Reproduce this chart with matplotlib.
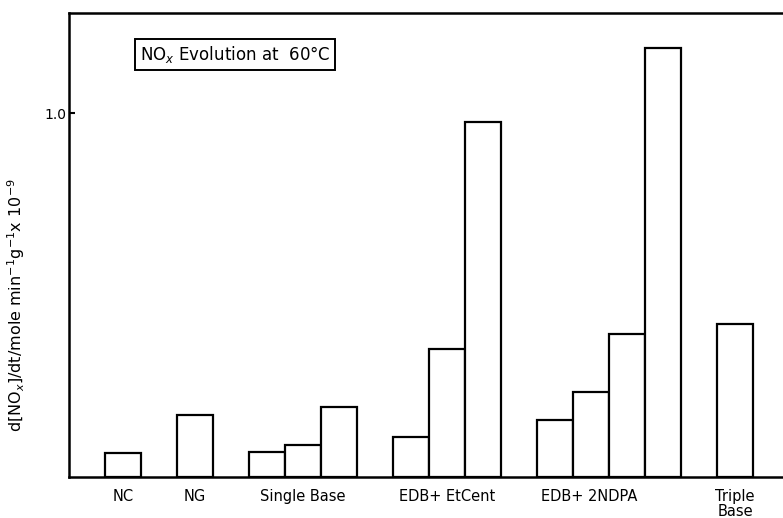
import matplotlib
matplotlib.use("Agg")
import matplotlib.pyplot as plt

# ---- data ----
groups = ["NC", "NG", "Single Base", "EDB+ EtCent", "EDB+ 2NDPA", "Triple\nBase"]
values = [
    [0.066],
    [0.171],
    [0.069, 0.088, 0.192],
    [0.110, 0.352, 0.975],
    [0.157, 0.234, 0.393, 1.179],
    [0.420],
]
yticks = [1.0]
yticklabels = ["1.0"]

plt.rcParams['font.family'] = ['DejaVu Sans']

fig = plt.figure(figsize=(7.83, 5.18), dpi=100)
ax = fig.add_axes([69 / 783, 41 / 518, 720 / 783, 464 / 518])

x = 1.0
label_x = []
for gi, vals in enumerate(values):
    xs = [x + i + 0.5 for i in range(len(vals))]
    ax.bar(xs, vals, width=1.0, facecolor="white", edgecolor="black", linewidth=1.6)
    label_x.append(sum(xs) / len(xs))
    x += len(vals) + 1
# the 2NDPA label sits under the first bars of its group in the reference
label_x[4] -= 0.55

for lx, name in zip(label_x, groups):
    ax.text(lx, -0.025, name, ha="center", va="top", fontsize=10.5,
            transform=ax.get_xaxis_transform(), linespacing=1.05)

ax.set_xlim(0, 20)
ax.set_ylim(0, 1.275)
ax.set_xticks([])
ax.set_yticks(yticks)
ax.set_yticklabels(yticklabels, fontsize=10)
ax.tick_params(axis="y", direction="in", length=4, width=1.5, pad=2)

for s in ["left", "bottom", "top"]:
    ax.spines[s].set_linewidth(1.8)
ax.spines["right"].set_visible(False)

ax.set_ylabel(r"d[NO$_x$]/dt/mole min$^{-1}$g$^{-1}$x 10$^{-9}$", fontsize=11.5)
ax.yaxis.set_label_coords(-0.058, 0.37)

ax.text(0.098, 0.911, r"NO$_x$ Evolution at  60°C", transform=ax.transAxes,
        ha="left", va="center", fontsize=12,
        bbox=dict(boxstyle="square,pad=0.3", facecolor="white", edgecolor="black", linewidth=1.4))

fig.savefig("out.png", dpi=100)
